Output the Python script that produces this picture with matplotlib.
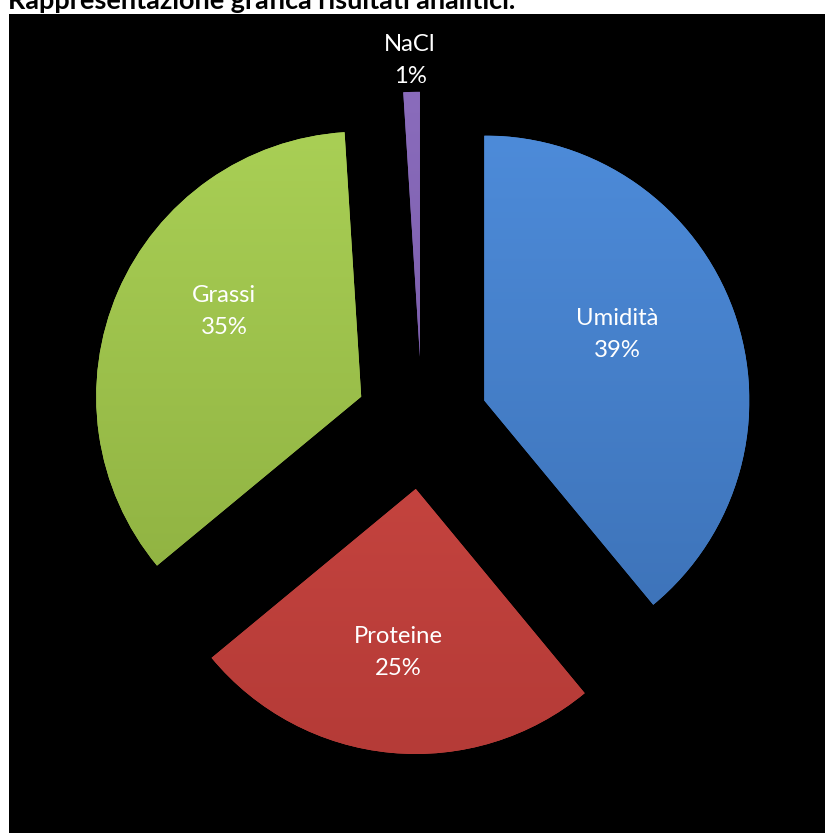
import numpy as np
import matplotlib
matplotlib.use("Agg")
import matplotlib.pyplot as plt
from matplotlib.patches import Rectangle
from matplotlib.colors import LinearSegmentedColormap

# ---- data ----
categories = ["Umidità", "Proteine", "Grassi", "NaCl"]
values = [39, 25, 35, 1]
pct_labels = ["39%", "25%", "35%", "1%"]
title = "Rappresentazione grafica risultati analitici."

# ---- style ----
top_colors = ["#4d8bd9", "#d24b46", "#a9cf55", "#8a6cbc"]
bottom_colors = ["#3c71b6", "#b53b37", "#8cae3f", "#6f52a0"]
W, H = 825, 833
plt.rcParams['font.family'] = ['Lato', 'DejaVu Sans']

fig = plt.figure(figsize=(W / 100, H / 100), dpi=100)
fig.patch.set_facecolor("white")

# black chart area
fig.patches.append(Rectangle((9 / W, 0), (W - 9) / W, (H - 14) / H,
                             transform=fig.transFigure, facecolor="black",
                             edgecolor="none", zorder=-5))

ax = fig.add_axes([9 / W, 0, (W - 9) / W, (H - 14) / H])
ax.set_zorder(2)
ax.set_facecolor("none")
radius = 265
center = (422, H - 423)
explode = [0.25 * radius] * len(values)

wedges, _ = ax.pie(values, startangle=90, counterclock=False, radius=radius,
                   center=center, explode=explode, frame=True,
                   colors=top_colors, wedgeprops=dict(linewidth=0))
ax.set_xlim(9, W)
ax.set_ylim(0, H - 14)
ax.set_aspect("equal")
ax.axis("off")

# gradient shading clipped to each wedge
for w, ct, cb in zip(wedges, top_colors, bottom_colors):
    cmap = LinearSegmentedColormap.from_list("g", [cb, ct])
    cx, cy = w.center
    ext = [cx - radius, cx + radius, cy - radius, cy + radius]
    grad = np.linspace(0, 1, 256).reshape(-1, 1) * np.ones((1, 4))
    im = ax.imshow(grad, extent=ext, origin="lower", cmap=cmap,
                   aspect="auto", zorder=2, interpolation="bicubic")
    im.set_clip_path(w)
    w.set_zorder(1)
ax.set_xlim(9, W)
ax.set_ylim(0, H - 14)

# label font size fitted to reference width of "Umidità"
renderer = fig.canvas.get_renderer()
t = fig.text(0, 0, categories[0], fontsize=16)
wpx = t.get_window_extent(renderer).width
fs = 16 * 83 / wpx
t.remove()

label_dist = [0.56, 0.62, 0.61, 1.12]
label_ang = [26.6, -96.0, 148.0, 91.9]
for w, cat, pl, d, a in zip(wedges, categories, pct_labels, label_dist, label_ang):
    cx, cy = w.center
    x = cx + d * radius * np.cos(np.radians(a))
    y = cy + d * radius * np.sin(np.radians(a))
    ax.text(x, y, f"{cat}\n{pl}", ha="center", va="center", color="white",
            fontsize=fs, linespacing=1.65, zorder=5)

# title (partly cut at top as in reference)
tt = fig.text(0, 0, title, fontsize=16, fontweight="bold")
tw = tt.get_window_extent(renderer).width
tt.remove()
fig.text(8 / W, 1 - 9 / H, title, fontsize=16 * 509 / tw, fontweight="bold",
         ha="left", va="baseline", color="black")

fig.savefig("out.png", dpi=100, facecolor="white")
